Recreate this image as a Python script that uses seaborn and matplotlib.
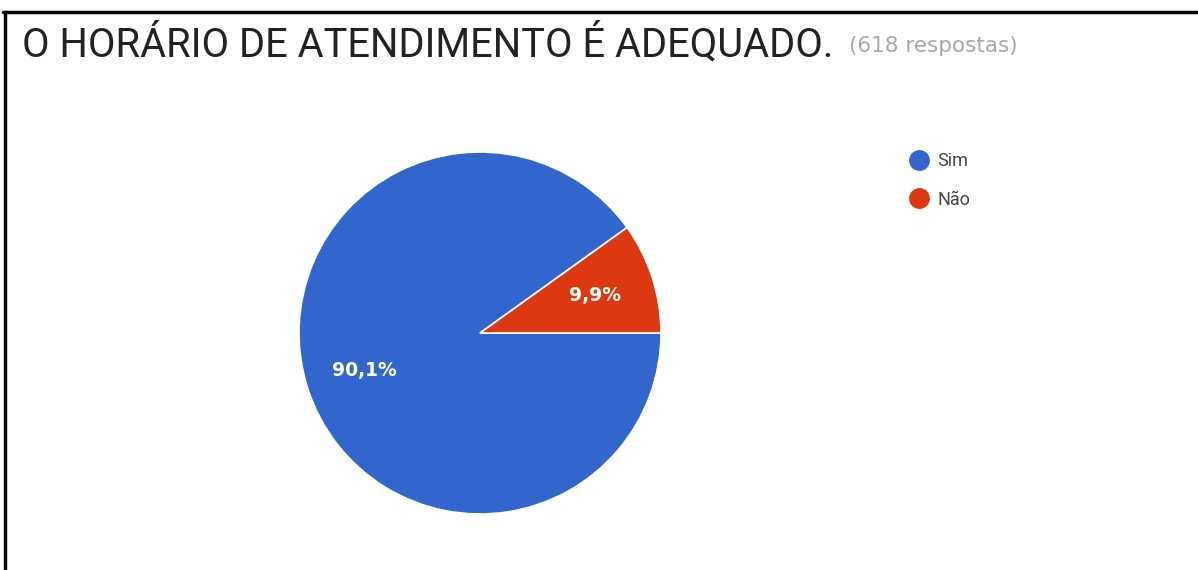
import matplotlib
matplotlib.use("Agg")
import matplotlib.pyplot as plt
from matplotlib.lines import Line2D
import seaborn as sns

title = "O HORÁRIO DE ATENDIMENTO É ADEQUADO."
subtitle = "(618 respostas)"
categories = ["Sim", "Não"]
values = [90.1, 9.9]
colors = ["#3366CC", "#DC3912"]

sns.set_theme(style="white")
plt.rcParams['font.family'] = ['Roboto', 'DejaVu Sans']

W, H = 1198, 570
fig = plt.figure(figsize=(W / 100, H / 100), dpi=100)
fig.patch.set_facecolor("white")

cx, cy, r = 480, 333, 181
ax = fig.add_axes([(cx - r) / W, (H - cy - r) / H, 2 * r / W, 2 * r / H])

def fmt(p):
    return f"{p:.1f}%".replace(".", ",")

wedges, texts, autotexts = ax.pie(
    values, colors=sns.color_palette(colors), startangle=0, counterclock=False,
    autopct=fmt, pctdistance=0.67, radius=1.0,
    wedgeprops=dict(edgecolor="white", linewidth=1.2),
    textprops=dict(color="white", fontsize=13.5, fontweight="bold",
                   family=['DejaVu Sans']))
ax.set_xlim(-1, 1)
ax.set_ylim(-1, 1)
ax.set_aspect("equal")
ax.axis("off")

fig.text(22 / W, 1 - 44 / H, title, fontsize=28.7, color="#222222", va="center", ha="left")
fig.text(849 / W, 1 - 46 / H, subtitle, fontsize=15.5, color="#a8a8a8", va="center", ha="left",
         family=['DejaVu Sans'])

handles = [Line2D([0], [0], marker="o", linestyle="", markersize=14,
                  markerfacecolor=c, markeredgecolor=c) for c in colors]
fig.legend(handles, categories, loc="upper left",
           bbox_to_anchor=(910 / W, 1 - 152 / H), frameon=False,
           fontsize=13, handletextpad=0.5, labelspacing=1.15,
           handlelength=1.0, borderaxespad=0, borderpad=0,
           labelcolor="#444444")

fig.add_artist(Line2D([3 / W, 1], [1 - 12 / H, 1 - 12 / H], color="black", linewidth=2.5,
                      transform=fig.transFigure))
fig.add_artist(Line2D([5 / W, 5 / W], [0, 1 - 12 / H], color="black", linewidth=2.5,
                      transform=fig.transFigure))

fig.savefig("out.png", dpi=100, facecolor="white")
